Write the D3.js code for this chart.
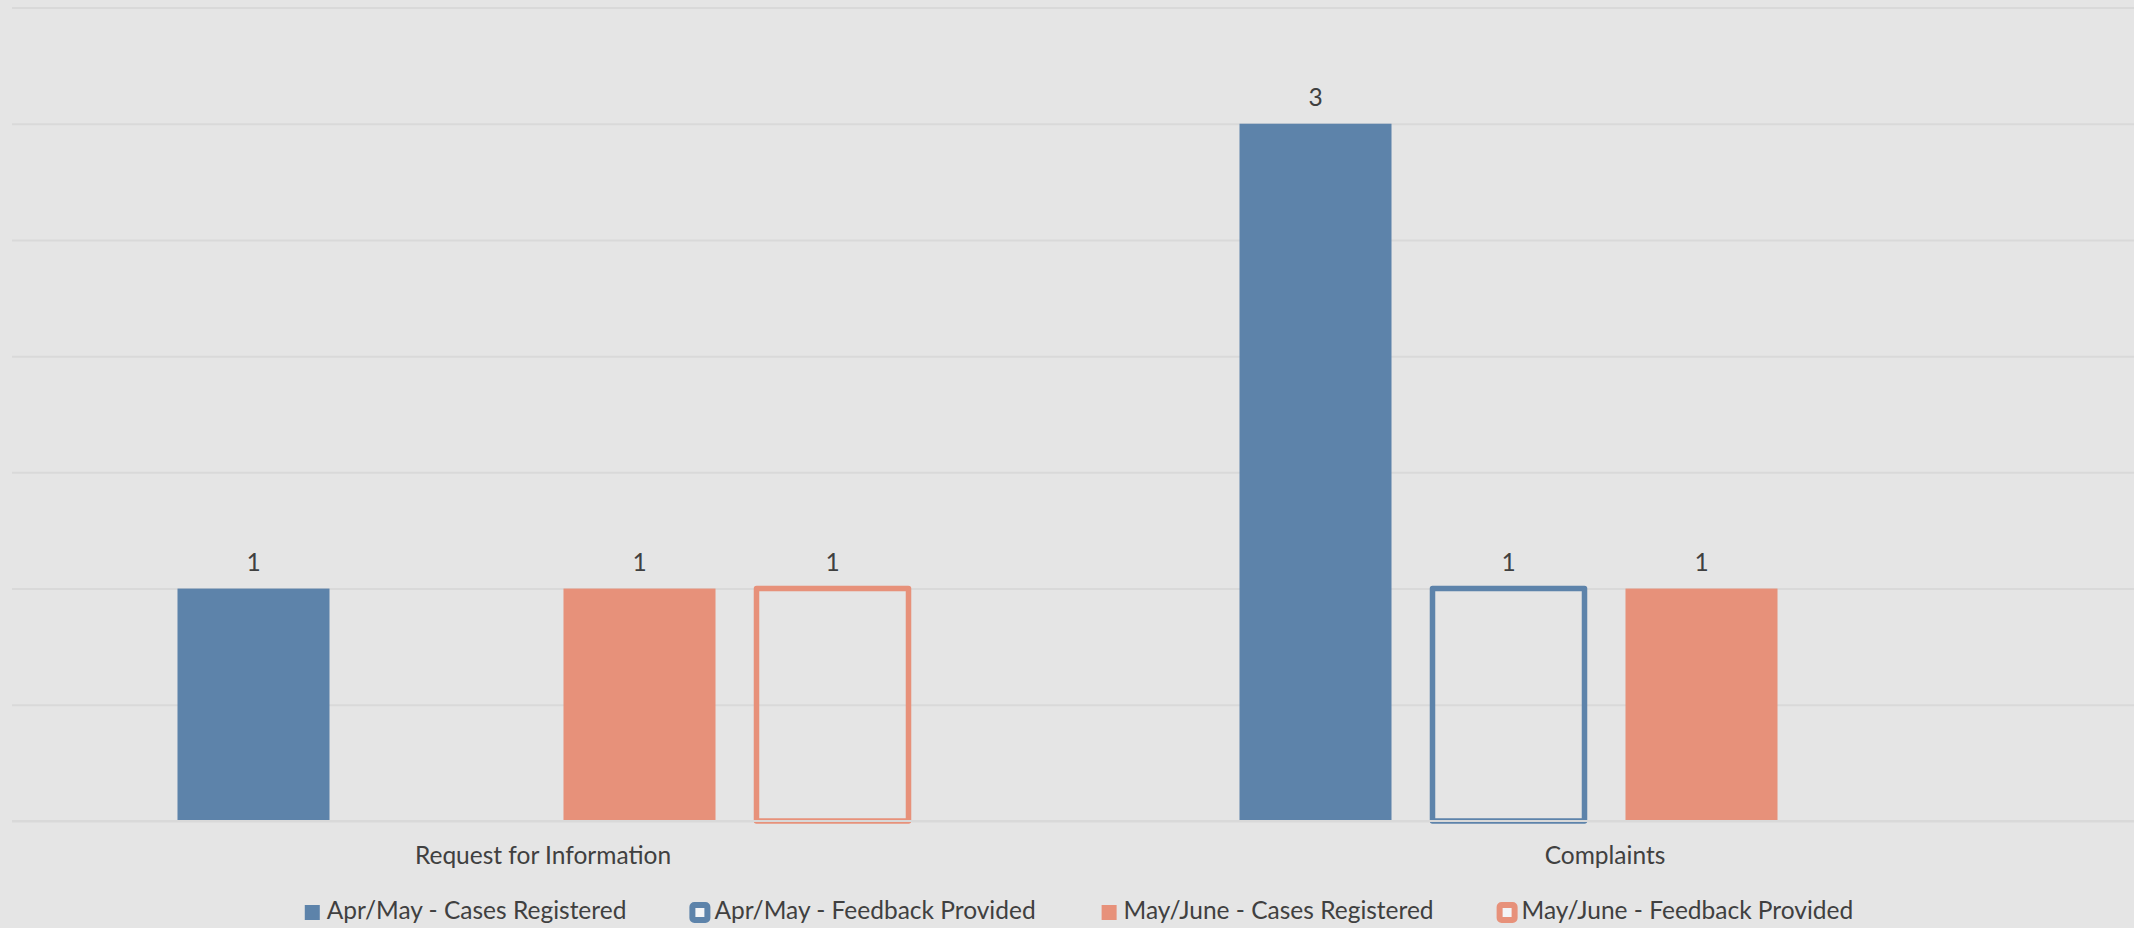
<!DOCTYPE html>
<html>
<head>
<meta charset="utf-8">
<script src="https://cdn.jsdelivr.net/npm/d3@7"></script>
<style>
  html, body { margin: 0; padding: 0; background: #e5e5e5; }
  svg { display: block; }
  text { font-family: Lato, "Open Sans", sans-serif; fill: #404040; }
</style>
</head>
<body>
<script>
// Case counts per category, one array per series
const categories = ["Request for Information", "Complaints"];
const seriesNames = [
  "Apr/May - Cases Registered",
  "Apr/May - Feedback Provided",
  "May/June - Cases Registered",
  "May/June - Feedback Provided"
];
const aprMayCases = [1, 3];
const aprMayFeedback = [null, 1];
const mayJuneCases = [1, 1];
const mayJuneFeedback = [1, null];
const gridValues = [0, 0.5, 1, 1.5, 2, 2.5, 3, 3.5];

const seriesValues = [aprMayCases, aprMayFeedback, mayJuneCases, mayJuneFeedback];
const seriesStyle = [
  { color: "#5d83aa", outline: false },
  { color: "#5d83aa", outline: true },
  { color: "#e7917a", outline: false },
  { color: "#e7917a", outline: true }
];

const W = 2134, H = 928;
const plotLeft = 12, plotRight = 2136, plotTop = 7.5, plotBottom = 821;
const fontSize = 24.5;

const svg = d3.select("body").append("svg")
  .attr("width", W).attr("height", H);

svg.append("rect").attr("width", W).attr("height", H).attr("fill", "#e5e5e5");

const y = d3.scaleLinear().domain([0, 3.5]).range([plotBottom, plotTop]);
const x0 = d3.scaleBand().domain(categories).range([plotLeft, plotRight]);
const groupPad = (x0.bandwidth() - 772) / 2;
const x1 = d3.scaleBand().domain(seriesNames)
  .range([groupPad, x0.bandwidth() - groupPad])
  .paddingInner(0.2124).paddingOuter(0.1062);

// Horizontal gridlines
const grid = svg.append("g")
  .attr("transform", `translate(${plotLeft},0)`)
  .call(d3.axisLeft(y).tickValues(gridValues).tickSize(-(W - plotLeft)).tickFormat(""));
grid.select(".domain").remove();
grid.selectAll(".tick line").attr("stroke", "#d9d9d9").attr("stroke-width", 2);

// Flatten into bar records
const bars = [];
categories.forEach((c, ci) => {
  seriesNames.forEach((s, si) => {
    const v = seriesValues[si][ci];
    if (v != null) bars.push({ category: c, series: s, value: v, style: seriesStyle[si] });
  });
});

svg.append("g").selectAll("rect.bar").data(bars).join("rect")
  .attr("class", "bar")
  .attr("x", d => x0(d.category) + x1(d.series))
  .attr("y", d => y(d.value))
  .attr("width", x1.bandwidth())
  .attr("height", d => y(0) - y(d.value))
  .attr("fill", d => d.style.outline ? "none" : d.style.color)
  .attr("stroke", d => d.style.outline ? d.style.color : "none")
  .attr("stroke-width", d => d.style.outline ? 5.5 : 0)
  .attr("stroke-linejoin", "round");

// Baseline drawn over the bars
svg.append("line")
  .attr("x1", plotLeft).attr("x2", W)
  .attr("y1", y(0)).attr("y2", y(0))
  .attr("stroke", "#d9d9d9").attr("stroke-width", 2);

// Value labels
svg.selectAll("text.value").data(bars).join("text")
  .attr("class", "value")
  .attr("x", d => x0(d.category) + x1(d.series) + x1.bandwidth() / 2)
  .attr("y", d => y(d.value) - 17.5)
  .attr("text-anchor", "middle")
  .attr("font-size", fontSize)
  .text(d => d.value);

// Category labels
svg.selectAll("text.cat").data(categories).join("text")
  .attr("class", "cat")
  .attr("x", d => x0(d) + x0.bandwidth() / 2)
  .attr("y", 864)
  .attr("text-anchor", "middle")
  .attr("font-size", fontSize)
  .text(d => d);

// Legend
const items = svg.append("g").selectAll("g.item").data(seriesNames).join("g").attr("class", "item");
items.append("rect")
  .attr("x", 0).attr("y", 905).attr("width", 15).attr("height", 15)
  .attr("rx", (d, i) => seriesStyle[i].outline ? 2 : 0)
  .attr("fill", (d, i) => seriesStyle[i].outline ? "#f3f4f6" : seriesStyle[i].color)
  .attr("stroke", (d, i) => seriesStyle[i].outline ? seriesStyle[i].color : "none")
  .attr("stroke-width", (d, i) => seriesStyle[i].outline ? 6 : 0)
  .attr("stroke-linejoin", "round");
items.append("text")
  .attr("x", 22).attr("y", 919.3)
  .attr("font-size", fontSize)
  .text(d => d);

const itemGap = 66;
const widths = [];
items.each(function () {
  widths.push(22 + d3.select(this).select("text").node().getComputedTextLength());
});
const total = d3.sum(widths) + itemGap * (widths.length - 1);
let cursor = 1079 - total / 2;
items.attr("transform", (d, i) => {
  const t = `translate(${cursor},0)`;
  cursor += widths[i] + itemGap;
  return t;
});
</script>
</body>
</html>
